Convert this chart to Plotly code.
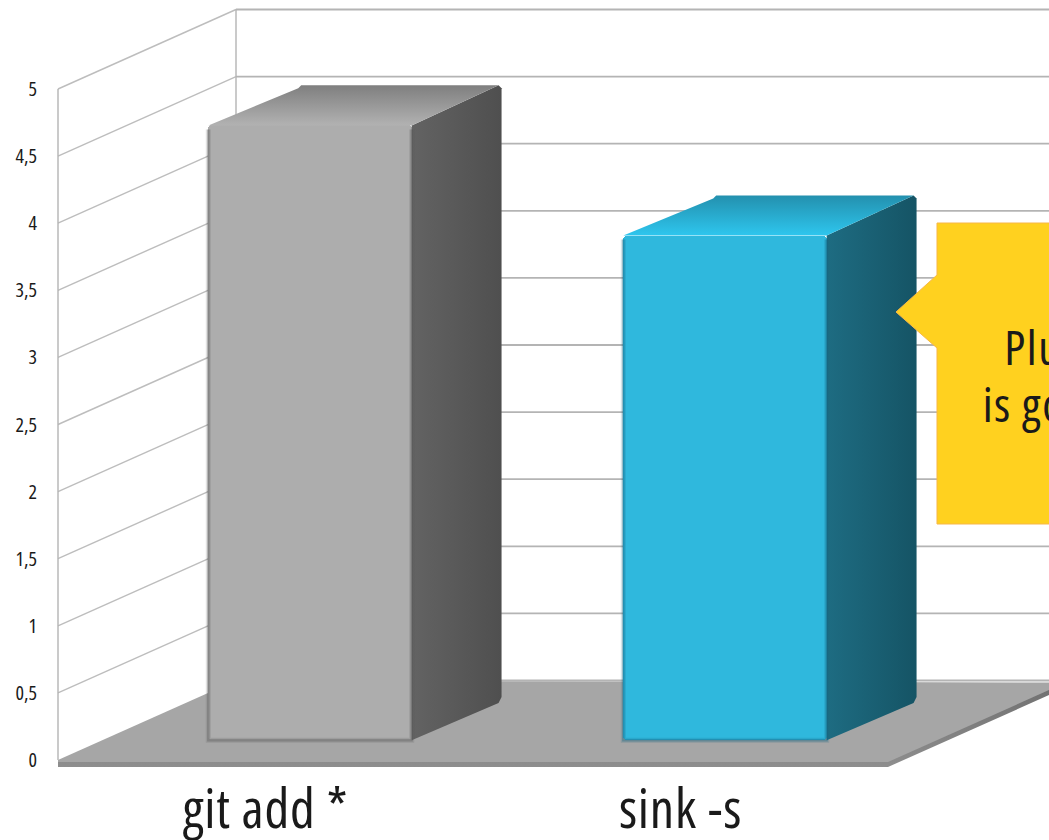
import plotly.graph_objects as go

# ---- data ----
categories = ["git add *", "sink -s"]
values = [4.58, 3.76]
tick_values = [0, 0.5, 1, 1.5, 2, 2.5, 3, 3.5, 4, 4.5, 5]
tick_labels = ["0", "0,5", "1", "1,5", "2", "2,5", "3", "3,5", "4", "4,5", "5"]
callout_lines = ["Plus", "is going"]

# ---- styles ----
FRONT = ["#ADADAD", "#2FB8DD"]
EDGE = ["rgba(90,90,90,{a})", "rgba(20,100,130,{a})"]
SIDE = [["#636363", "#4F4F4F"], ["#1E6C82", "#155465"]]
TOP = [["#B2B2B2", "#7F7F7F"], ["#2EC6EE", "#2390AE"]]
FONT = "Open Sans, Noto Sans, sans-serif"
W, H = 1049, 840
PX_X, PX_Y = 415.0, 134.2      # pixels per category / per value unit
X0, Y0 = 58.0, 760.0           # pixel position of the origin
DX, DY = 178.0 / PX_X, 79.5 / PX_Y  # chart depth in axis units
BAR_W = 0.49
D_FRONT, D_BACK = 0.25, 0.755
xrange_ = [-X0 / PX_X, (W - X0) / PX_X]
yrange_ = [-(H - Y0) / PX_Y, Y0 / PX_Y]
n = len(categories)
CX, CY = 3.0 / PX_X, 3.0 / PX_Y   # corner chamfer


def line_trace(xs, ys, color, width, axes=("x", "y")):
    return go.Scatter(x=xs, y=ys, mode="lines", line=dict(color=color, width=width),
                      hoverinfo="skip", showlegend=False, xaxis=axes[0], yaxis=axes[1])


def poly(xs, ys, axes=("x2", "y2"), color=None, grad=None):
    kw = dict(fillgradient=grad) if grad else dict(fillcolor=color)
    return go.Scatter(x=xs + xs[:1], y=ys + ys[:1], mode="lines", fill="toself",
                      line=dict(width=0, color="rgba(0,0,0,0)"),
                      hoverinfo="skip", showlegend=False, xaxis=axes[0], yaxis=axes[1], **kw)


fig = go.Figure()

# floor edge and floor
thick = 7.0 / PX_Y
lip = 2.0 / PX_Y
fig.add_trace(poly([0, n, n + DX, n + DX, n, 0], [-thick, -thick, DY - thick, DY, 0, 0], ("x", "y"),
                   grad=dict(type="vertical", colorscale=[[0, "#8E8E8E"], [1, "#6E6E6E"]])))
fig.add_trace(poly([0, 0, n, n + DX, DX], [0, -lip, -lip, DY - lip, DY], ("x", "y"), color="#A6A6A6"))

# walls: grid lines on the left wall and the back wall
gx, gy = [], []
for t in tick_values[1:]:
    gx += [0, DX, None]
    gy += [t, t + DY, None]
fig.add_trace(line_trace(gx, gy, "#BDBDBD", 1.4))
bx, by = [], []
for t in tick_values:
    bx += [DX, n + DX, None]
    by += [t + DY, t + DY, None]
fig.add_trace(line_trace(bx, by, "#B4B4B4", 1.8))
fig.add_trace(line_trace([0, 0], [0, tick_values[-1]], "#B4B4B4", 1.4))
fig.add_trace(line_trace([DX, DX], [DY, tick_values[-1] + DY], "#B4B4B4", 1.4))

# bars: front faces
cx = [i + 0.5 + D_FRONT * DX for i in range(n)]
fdy = D_FRONT * DY
fig.add_trace(go.Bar(x=cx, y=values, base=[fdy] * n, width=BAR_W, xaxis="x2", yaxis="y2",
                     marker=dict(color=FRONT, line=dict(width=0), cornerradius=4),
                     hoverinfo="skip", showlegend=False))

depth_x = (D_BACK - D_FRONT) * DX
depth_y = (D_BACK - D_FRONT) * DY
for i, v in enumerate(values):
    l, r = cx[i] - BAR_W / 2, cx[i] + BAR_W / 2
    top = fdy + v
    xe, ye = r + depth_x, top + depth_y
    # side face
    fig.add_trace(poly([r, xe - CX, xe, xe, xe - CX, r],
                       [fdy, fdy + depth_y - CY, fdy + depth_y + CY, ye - CY, ye, top],
                       grad=dict(type="horizontal", colorscale=[[0, SIDE[i][0]], [1, SIDE[i][1]]])))
    # top face
    fig.add_trace(poly([l, r, xe - CX, l + depth_x + CX, l + depth_x],
                       [top, top, ye, ye, ye - CY],
                       grad=dict(type="vertical", colorscale=[[0, TOP[i][0]], [1, TOP[i][1]]])))
    # soft bevel edges of the front face
    for alpha, w in ((0.18, 5), (0.35, 2.5)):
        fig.add_trace(line_trace([l, l, r, r], [top - 0.03, fdy, fdy, top - 0.03],
                                 EDGE[i].format(a=alpha), w, ("x2", "y2")))


# callout
def px(v):
    return v / W


def py(v):
    return 1 - v / H


pts = [(937, 223), (1060, 223), (1060, 524), (937, 524), (937, 348), (896, 312), (937, 275)]
path = "M " + " L ".join(f"{px(a):.5f},{py(b):.5f}" for a, b in pts) + " Z"
shapes = [dict(type="path", xref="paper", yref="paper", path=path, fillcolor="#FFD11F",
               line=dict(color="#F7B748", width=1), layer="above")]
anns = [dict(xref="paper", yref="paper", x=px(a), y=py(b), text=t, showarrow=False, xanchor="left",
             yanchor="middle", font=dict(family=FONT, size=48, color="#1A1A1A"))
        for t, a, b in zip(callout_lines, [993, 964], [346, 403])]

common = dict(showgrid=False, zeroline=False, showline=False)
fig.update_layout(
    width=W, height=H, margin=dict(l=0, r=0, t=0, b=0, pad=0, autoexpand=False),
    paper_bgcolor="white", plot_bgcolor="white", showlegend=False, bargap=0,
    shapes=shapes, annotations=anns,
    xaxis=dict(range=xrange_, tickmode="array", tickvals=[i + 0.5 for i in range(n)], ticktext=categories,
               anchor="free", position=(H - 767) / H, ticks="", ticklabelstandoff=6,
               tickfont=dict(family=FONT, size=54, color="#1A1A1A"), **common),
    yaxis=dict(range=yrange_, tickmode="array", tickvals=tick_values, ticktext=tick_labels,
               anchor="free", position=X0 / W, ticks="", ticklabelstandoff=21,
               tickfont=dict(family=FONT, size=20, color="#1A1A1A"), **common),
    xaxis2=dict(range=xrange_, overlaying="x", visible=False),
    yaxis2=dict(range=yrange_, overlaying="y", visible=False),
)
post = """
document.body.style.margin='0';document.body.style.overflow='hidden';
var st=document.createElement('style');st.textContent='text{font-stretch:75%;} .xtick text{letter-spacing:0.8px;} .annotation text{letter-spacing:1.5px;}';document.head.appendChild(st);
var gd=document.querySelector('.plotly-graph-div');
if(document.fonts&&document.fonts.ready){Plotly.redraw(gd);}
"""
fig.write_html("out.html", post_script=post, config=dict(displayModeBar=False))
